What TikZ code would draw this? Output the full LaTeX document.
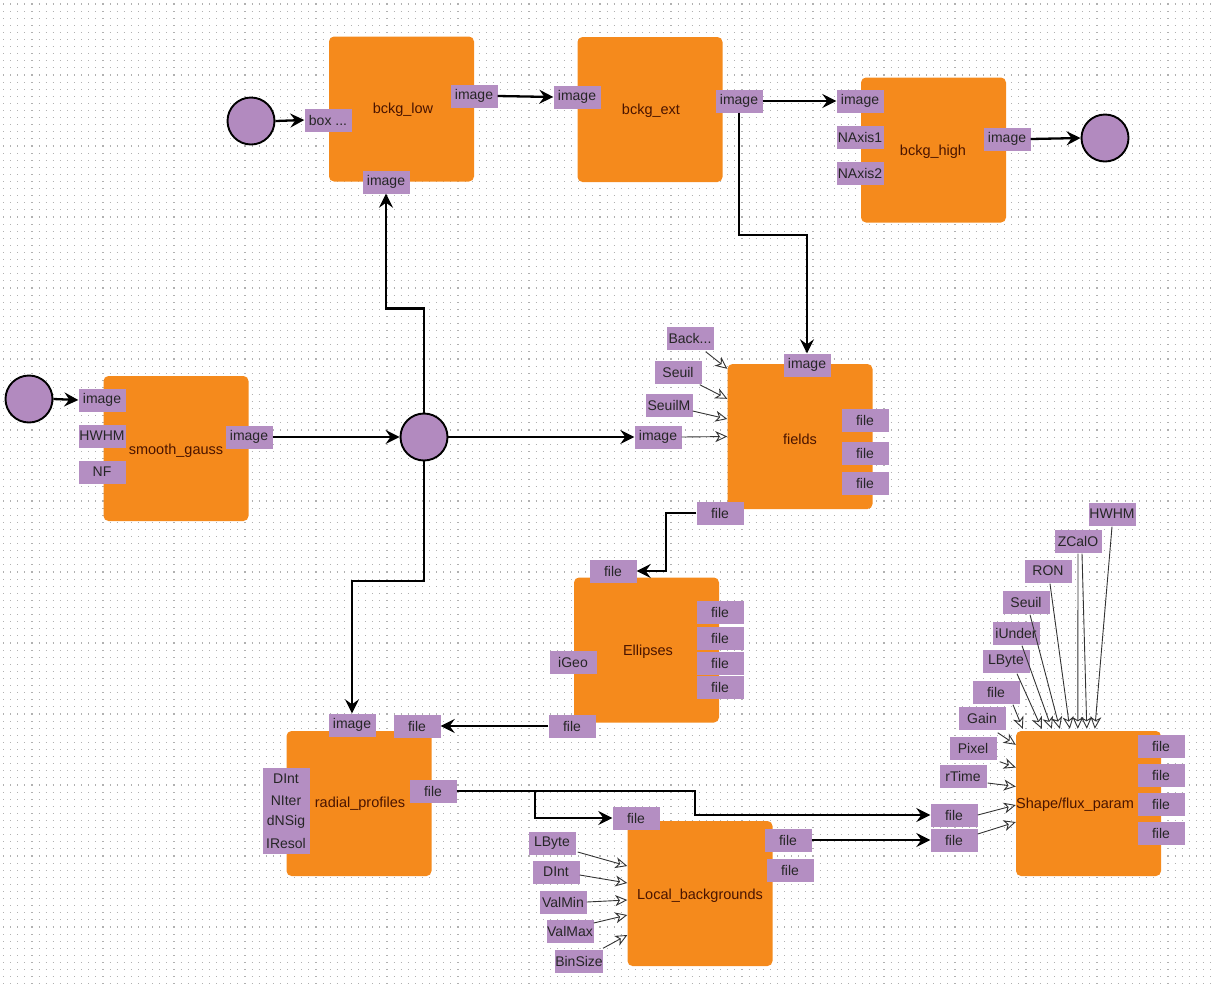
\documentclass[tikz,border=0pt]{standalone}
\usepackage{fontspec}
\setmainfont{Liberation Sans}
\usetikzlibrary{arrows.meta,calc}
\definecolor{orng}{HTML}{F58A1C}
\definecolor{prt}{HTML}{B48EC2}
\definecolor{circf}{HTML}{B28ABF}
\definecolor{lbl}{HTML}{4A1400}
\definecolor{dotc}{HTML}{B0B0B0}
\begin{document}
\begin{tikzpicture}[x=1pt,y=-1pt,
  dotrow/.style={dotc, line width=1.1pt, dash pattern=on 1.1pt off 6pt, dash phase=-3pt},
  blk/.style={fill=orng, rounded corners=5pt, minimum width=145pt, minimum height=145pt, inner sep=0pt},
  blbl/.style={text=lbl, font=\fontsize{14.5}{16}\selectfont, inner sep=0pt},
  port/.style={fill=prt, minimum width=47pt, minimum height=23pt, inner sep=0pt, text=black!85, font=\fontsize{14}{16}\selectfont},
  circ/.style={circle, fill=circf, draw=black, line width=1.9pt, minimum size=47pt, inner sep=0pt},
  wire/.style={line width=2.3pt, -{Stealth[length=14pt,width=14pt,inset=5pt]}},
  thin/.style={line width=0.9pt, black!80, -{Stealth[open,length=12pt,width=11pt,inset=3.5pt]}}
]
\useasboundingbox (0,0) rectangle (1215,989);
\foreach \k in {0,...,138} \draw[dotrow] (0,{4+7.1*\k}) -- (1215,{4+7.1*\k});

% blocks
\node[blk] (low) at (401.5,109) {};
\node[blk] (ext) at (650,109.5) {};
\node[blk] (high) at (933.5,150) {};
\node[blk] (sg) at (176,448.5) {};
\node[blk] (fld) at (800,436.5) {};
\node[blk] (ell) at (646.5,650) {};
\node[blk] (rad) at (359,803.5) {};
\node[blk] (loc) at (700,893.5) {};
\node[blk] (shp) at (1088.5,803.5) {};

% block labels
\node[blbl] (lowl) at (403,110) {bckg\_low};
\node[blbl] (extl) at (651,111) {bckg\_ext};
\node[blbl] (highl) at (933,152) {bckg\_high};
\node[blbl] (sgl) at (176,451) {smooth\_gauss};
\node[blbl] (fldl) at (800,439) {fields};
\node[blbl] (elll) at (648,652) {Ellipses};
\node[blbl] (radl) at (360,804) {radial\_profiles};
\node[blbl] (locl) at (700,896) {Local\_backgrounds};
\node[blbl, anchor=west] (shpl) at (1016,805) {Shape/flux\_param};

% ports
\node[port] (lowin) at (328,120) {box ...};
\node[port] (lowout) at (474,96) {image};
\node[port] (lowbot) at (386,182) {image};
\node[port] (extin) at (577,97) {image};
\node[port] (extout) at (739,101) {image};
\node[port] (highin) at (860,101) {image};
\node[port] (hn1) at (860,137) {NAxis1};
\node[port] (hn2) at (860,173) {NAxis2};
\node[port] (highout) at (1007,139) {image};
\node[port] (sgin) at (102,400) {image};
\node[port] (sgh) at (102,436) {HWHM};
\node[port] (sgnf) at (102,472) {NF};
\node[port] (sgout) at (249,437) {image};
\node[port] (fback) at (690,338) {Back...};
\node[port] (fseuil) at (678,372) {Seuil};
\node[port] (fseuilm) at (669,405) {SeuilM};
\node[port] (fin) at (658,437) {image};
\node[port] (ftop) at (807,365) {image};
\node[port] (ff1) at (865,420) {file};
\node[port] (ff2) at (865,453) {file};
\node[port] (ff3) at (865,483) {file};
\node[port] (fbot) at (720,513) {file};
\node[port] (etop) at (613,571) {file};
\node[port] (er1) at (720,612) {file};
\node[port] (er2) at (720,638) {file};
\node[port] (er3) at (720,663) {file};
\node[port] (er4) at (720,687) {file};
\node[port] (egeo) at (573,662) {iGeo};
\node[port] (ebl) at (572,726) {file};
\node[port] (rimg) at (352,725) {image};
\node[port] (rtf) at (417,726) {file};
\node[port, minimum height=21.5pt] (rp1) at (286,779) {DInt};
\node[port, minimum height=21.5pt] (rp2) at (286,800.5) {NIter};
\node[port, minimum height=21.5pt] (rp3) at (286,822) {dNSig};
\node[port, minimum height=21.5pt] (rp4) at (286,843.5) {IResol};
\node[port] (rout) at (433,791) {file};
\node[port] (ltop) at (636,818) {file};
\node[port] (lb1) at (552,843) {LByte};
\node[port] (lb2) at (556,872) {DInt};
\node[port] (lb3) at (563,902) {ValMin};
\node[port] (lb4) at (570,931) {ValMax};
\node[port] (lb5) at (579,961) {BinSize};
\node[port] (lo1) at (788,840) {file};
\node[port] (lo2) at (790,870) {file};
\node[port] (si1) at (954,815) {file};
\node[port] (si2) at (954,840) {file};
\node[port] (srt) at (963,776) {rTime};
\node[port] (spx) at (973,748) {Pixel};
\node[port] (sgn) at (982,718) {Gain};
\node[port] (sfile) at (996,692) {file};
\node[port] (slb) at (1006,661) {LByte};
\node[port] (siu) at (1016,633) {iUnder};
\node[port] (sse) at (1026,602) {Seuil};
\node[port] (sron) at (1048,571) {RON};
\node[port] (szc) at (1078,541) {ZCalO};
\node[port] (shw) at (1112,514) {HWHM};
\node[port] (so1) at (1161,746) {file};
\node[port] (so2) at (1161,775) {file};
\node[port] (so3) at (1161,804) {file};
\node[port] (so4) at (1161,833) {file};

% circles
\node[circ] (c1) at (251,121) {};
\node[circ] (c2) at (1105,138) {};
\node[circ] (c3) at (29,399) {};
\node[circ] (c4) at (424,437) {};

% thick connectors
\draw[wire] (c1.east) -- (lowin.west);
\draw[wire] (lowout.east) -- (extin.west);
\draw[wire] (extout.east) -- (highin.west);
\draw[wire] (highout.east) -- (c2.west);
\draw[wire] (c3.east) -- (sgin.west);
\draw[wire] (sgout.east) -- (c4.west);
\draw[wire] (c4.north) -- ++(0,-104) -| (lowbot.south);
\draw[wire] (c4.east) -- (fin.west);
\draw[wire] (c4.south) -- ++(0,119.5) -| (rimg.north);
\draw[wire] (extout.south) -- ++(0,122) -| (ftop.north);
\draw[wire] (fbot.west) -- ++(-30,0) |- (etop.east);
\draw[wire] (ebl.west) -- (rtf.east);
\draw[wire] (rout.east) -- ++(78,0) |- (ltop.west);
\draw[wire] (rout.east) -- ++(238,0) |- (si1.west);
\draw[wire] (lo1.east) -- (si2.west);

% thin connectors: fields
\draw[thin] ($(fback.south east)+(-8,2)$) -- ($(fld.north west)+(0,5)$);
\draw[thin] ($(fseuil.south east)+(-2,1)$) -- ($(fld.north west)+(0,35)$);
\draw[thin] ($(fseuilm.east)+(0,6)$) -- ($(fld.west)+(0,-17.5)$);
\draw[thin] (fin.east) -- (fld.west);
% thin connectors: Local_backgrounds
\draw[thin] ($(lb1.east)+(2,9)$) -- ($(loc.west)+(0,-27.5)$);
\draw[thin] ($(lb2.east)+(0,3)$) -- ($(loc.west)+(0,-10.5)$);
\draw[thin] (lb3.east) -- ($(loc.west)+(0,6.5)$);
\draw[thin] ($(lb4.east)+(0,-8)$) -- ($(loc.west)+(0,21.5)$);
\draw[thin] ($(lb5.north east)+(0,-1)$) -- ($(loc.west)+(0,41.5)$);
% thin connectors: Shape/flux_param
\draw[thin] (si1.east) -- ($(shp.west)+(0,1.5)$);
\draw[thin] ($(si2.east)+(0,-6)$) -- ($(shp.west)+(0,18.5)$);
\draw[thin] ($(srt.east)+(1,7)$) -- ($(shp.west)+(0,-17)$);
\draw[thin] ($(spx.south east)+(3,2)$) -- ($(shp.west)+(0,-36)$);
\draw[thin] ($(sgn.south east)+(-8,3)$) -- ($(shp.north west)+(0,14)$);
\draw[thin] ($(sfile.south)+(17,1)$) -- ($(shp.north west)+(7,-2)$);
\draw[thin] ($(slb.south)+(11,1)$) -- ($(shp.north west)+(26,-2)$);
\draw[thin] ($(siu.south)+(6,1)$) -- ($(shp.north west)+(36,-2)$);
\draw[thin] ($(sse.south)+(4,1)$) -- ($(shp.north west)+(44,-2)$);
\draw[thin] ($(sron.south)+(2,1)$) -- ($(shp.north west)+(54,-2)$);
\draw[thin] ($(szc.south)+(0,1)$) -- ($(shp.north west)+(62,-2)$);
\draw[thin] ($(szc.south)+(4,1)$) -- ($(shp.north west)+(71,-2)$);
\draw[thin] ($(shw.south)+(0,1)$) -- ($(shp.north west)+(79,-2)$);
\end{tikzpicture}
\end{document}
